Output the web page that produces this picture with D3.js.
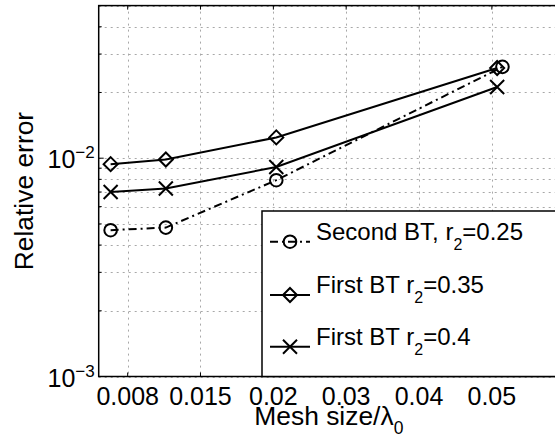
<!DOCTYPE html>
<html>
<head>
<meta charset="utf-8">
<script src="https://cdn.jsdelivr.net/npm/d3@7"></script>
<style>
  html, body { margin: 0; padding: 0; background: #fff; }
  svg { display: block; font-family: "Liberation Sans", Arial, Helvetica, sans-serif; }
</style>
</head>
<body>
<svg id="chart" width="555" height="439"></svg>
<script>
// Mesh size (in wavelengths) of each refinement level
const meshSize = [0.00625, 0.0125, 0.025, 0.05];
const meshSizeSecond = [0.00625, 0.0125, 0.025, 0.0506];

// Relative error for each boundary treatment
const secondBT025 = [0.00468, 0.00481, 0.00793, 0.0262];
const firstBT035 = [0.00939, 0.00986, 0.01245, 0.0259];
const firstBT04 = [0.00700, 0.00726, 0.00912, 0.0212];

// x-axis tick positions and their printed labels
const xTickPos = [0.00818, 0.01642, 0.02467, 0.03291, 0.04116, 0.0494];
const xTickLabels = ["0.008", "0.015", "0.02", "0.03", "0.04", "0.05"];

// y-axis decades that carry a label
const yMajor = [1e-3, 1e-2];
const yMajorExp = ["\u22123", "\u22122"];

const seriesNames = ["Second BT, r", "First BT r", "First BT r"];
const seriesSuffix = ["=0.25", "=0.35", "=0.4"];

(function drawChart() {
  const svg = d3.select("#chart");
  const pLeft = 98.7, pRight = 559, pTop = 5.6, pBottom = 376.5;
  const tickFont = 25, legendFont = 24, titleFont = 26.4;

  const x = d3.scaleLinear().domain([0.0049, 0.0570]).range([pLeft, pRight]);
  const y = d3.scaleLog().domain([1e-3, 5e-2]).range([pBottom, pTop]);

  // minor decades for the log grid
  const yMinor = [];
  for (let d = 1e-3; d < 5e-2; d *= 10) {
    for (let k = 2; k <= 9; k++) { const v = k * d; if (v <= 5e-2 + 1e-12) yMinor.push(v); }
  }
  const yAllGrid = yMajor.concat(yMinor);

  const grid = svg.append("g").attr("stroke", "#a8a8a8").attr("stroke-width", 1)
    .attr("stroke-dasharray", "2,4").attr("fill", "none");
  grid.selectAll("line.h").data(yAllGrid).join("line").attr("class", "h")
    .attr("x1", pLeft).attr("x2", pRight)
    .attr("y1", d => Math.round(y(d)) + 0.5).attr("y2", d => Math.round(y(d)) + 0.5);
  grid.selectAll("line.v").data(xTickPos).join("line").attr("class", "v")
    .attr("y1", pTop).attr("y2", pBottom)
    .attr("x1", d => Math.round(x(d)) + 0.5).attr("x2", d => Math.round(x(d)) + 0.5);

  // tick marks on all visible sides
  const ticks = svg.append("g").attr("stroke", "#000").attr("stroke-width", 1);
  ticks.selectAll("line.yt").data(yAllGrid).join("line").attr("class", "yt")
    .attr("x1", pLeft).attr("x2", d => pLeft + (yMajor.includes(d) ? 5 : 3))
    .attr("y1", d => y(d)).attr("y2", d => y(d));
  ticks.selectAll("line.xb").data(xTickPos).join("line").attr("class", "xb")
    .attr("x1", d => x(d)).attr("x2", d => x(d)).attr("y1", pBottom).attr("y2", pBottom - 4);
  ticks.selectAll("line.xt").data(xTickPos).join("line").attr("class", "xt")
    .attr("x1", d => x(d)).attr("x2", d => x(d)).attr("y1", pTop).attr("y2", pTop + 4);

  // axes box
  svg.append("rect").attr("x", pLeft).attr("y", pTop)
    .attr("width", pRight - pLeft).attr("height", pBottom - pTop)
    .attr("fill", "none").attr("stroke", "#000").attr("stroke-width", 1.5);

  // tick labels
  svg.append("g").selectAll("text").data(xTickPos).join("text")
    .attr("x", d => x(d)).attr("y", pBottom + 28.5)
    .attr("text-anchor", "middle").attr("font-size", tickFont)
    .text((d, i) => xTickLabels[i]);

  const yl = svg.append("g").selectAll("text").data(yMajor).join("text")
    .attr("x", pLeft - 4).attr("y", d => y(d) + 10)
    .attr("text-anchor", "end").attr("font-size", tickFont);
  yl.append("tspan").text("10");
  yl.append("tspan").attr("font-size", 17).attr("dy", -10).text((d, i) => yMajorExp[i]);

  // axis titles
  svg.append("text").attr("transform", `translate(33,${(pTop + pBottom) / 2}) rotate(-90)`)
    .attr("text-anchor", "middle").attr("font-size", titleFont).text("Relative error");
  const xt = svg.append("text").attr("x", (pLeft + pRight) / 2).attr("y", 425)
    .attr("text-anchor", "middle").attr("font-size", titleFont);
  xt.append("tspan").text("Mesh size/\u03bb");
  xt.append("tspan").attr("font-size", 17.5).attr("dy", 9).text("0");

  // markers
  function marker(g, type, cx, cy) {
    if (type === "circle") {
      g.append("circle").attr("cx", cx).attr("cy", cy).attr("r", 6.3)
        .attr("fill", "none").attr("stroke", "#000").attr("stroke-width", 2);
    } else if (type === "diamond") {
      const s = 7;
      g.append("path").attr("d", `M${cx},${cy - s}L${cx + s},${cy}L${cx},${cy + s}L${cx - s},${cy}Z`)
        .attr("fill", "none").attr("stroke", "#000").attr("stroke-width", 2);
    } else {
      const s = 7;
      g.append("path").attr("d", `M${cx - s},${cy - s}L${cx + s},${cy + s}M${cx - s},${cy + s}L${cx + s},${cy - s}`)
        .attr("fill", "none").attr("stroke", "#000").attr("stroke-width", 2);
    }
  }

  const series = [
    { xs: meshSizeSecond, ys: secondBT025, type: "circle", dash: "8,4,2,4" },
    { xs: meshSize, ys: firstBT035, type: "diamond", dash: null },
    { xs: meshSize, ys: firstBT04, type: "x", dash: null }
  ];

  const line = d3.line().x(d => x(d[0])).y(d => y(d[1]));
  series.forEach(s => {
    const g = svg.append("g");
    const pts = s.xs.map((v, i) => [v, s.ys[i]]);
    g.append("path").attr("d", line(pts)).attr("fill", "none")
      .attr("stroke", "#000").attr("stroke-width", 2)
      .attr("stroke-dasharray", s.dash);
    pts.forEach(p => marker(g, s.type, x(p[0]), y(p[1])));
  });

  // legend
  const lg = svg.append("g");
  lg.append("rect").attr("x", 262).attr("y", 211).attr("width", 310).attr("height", pBottom - 211)
    .attr("fill", "#fff").attr("stroke", "#000").attr("stroke-width", 1.5);
  const rowY = [241.7, 295, 346.7];
  series.forEach((s, i) => {
    const cy = rowY[i];
    lg.append("line").attr("x1", 270).attr("x2", 310).attr("y1", cy).attr("y2", cy)
      .attr("stroke", "#000").attr("stroke-width", 2).attr("stroke-dasharray", s.dash);
    marker(lg, s.type, 290, cy);
    const t = lg.append("text").attr("x", 316).attr("y", cy - 2).attr("font-size", legendFont);
    t.append("tspan").text(seriesNames[i]);
    t.append("tspan").attr("font-size", 16).attr("dy", 10).text("2");
    t.append("tspan").attr("dy", -10).text(seriesSuffix[i]);
  });
})();
</script>
</body>
</html>
